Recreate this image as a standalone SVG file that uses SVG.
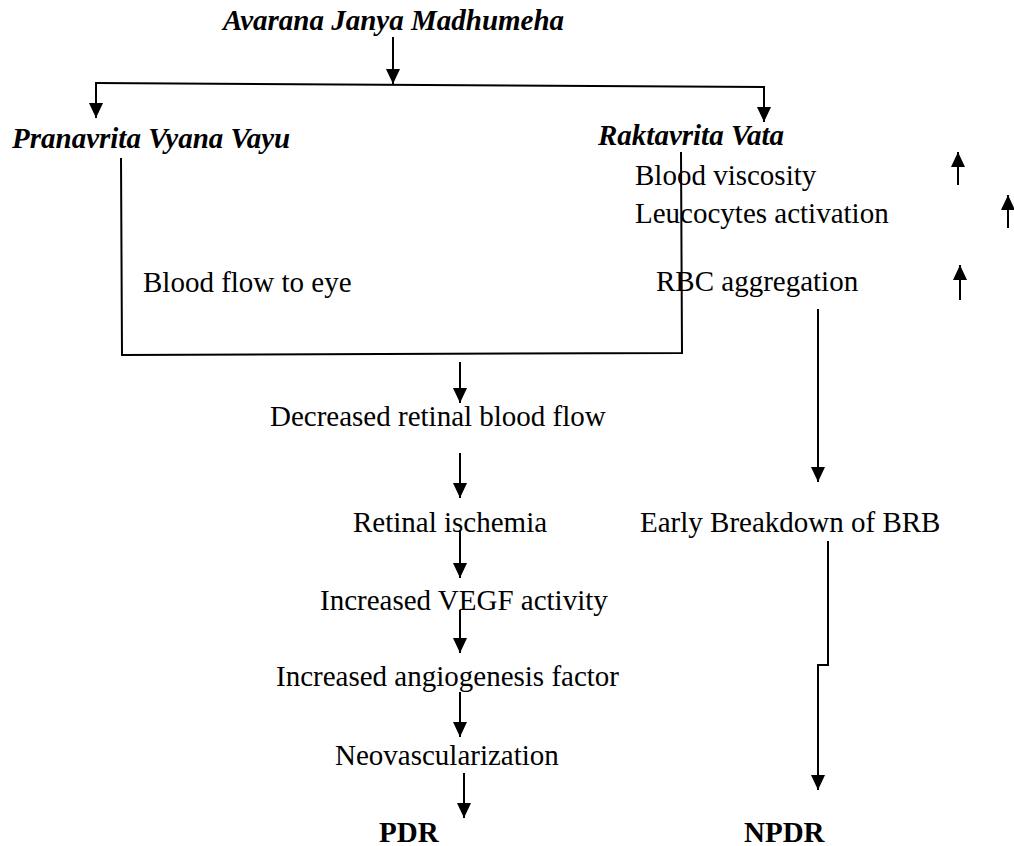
<svg xmlns="http://www.w3.org/2000/svg" width="1014" height="846" viewBox="0 0 1014 846">
<defs>
<marker id="ah" markerWidth="15" markerHeight="14" refX="15" refY="7" orient="auto" markerUnits="userSpaceOnUse">
<path d="M0,0 L15,7 L0,14 z" fill="#000"/>
</marker>
<style>
.t{font-family:"Liberation Serif","Times New Roman",serif;font-size:29px;fill:#000}
.bi{font-weight:bold;font-style:italic}
.b{font-weight:bold}
.ln{stroke:#000;stroke-width:2;fill:none}
.ar{stroke:#000;stroke-width:2;fill:none;marker-end:url(#ah)}
</style>
</defs>
<rect width="1014" height="846" fill="#fff"/>
<g id="connectors">
<line class="ar" x1="393" y1="37" x2="393" y2="84"/>
<line class="ln" x1="95" y1="83" x2="765" y2="87"/>
<line class="ar" x1="96" y1="83" x2="96" y2="118"/>
<line class="ar" x1="764" y1="87" x2="764" y2="122"/>
<polyline class="ln" points="121,158 122,355 682,353 681,152"/>
<line class="ar" x1="818" y1="309" x2="818" y2="482"/>
<line class="ar" x1="460" y1="362" x2="460" y2="403"/>
<line class="ar" x1="460" y1="453" x2="460" y2="498"/>
<line class="ar" x1="460" y1="530" x2="460" y2="578"/>
<line class="ar" x1="460" y1="610" x2="460" y2="653"/>
<line class="ar" x1="460" y1="692" x2="460" y2="737"/>
<line class="ar" x1="464" y1="773" x2="464" y2="818"/>
<polyline class="ar" points="828,541 828,665 818,665 818,790"/>
<line class="ar" x1="958" y1="185" x2="958" y2="152"/>
<line class="ar" x1="1008" y1="228" x2="1008" y2="195"/>
<line class="ar" x1="960" y1="300" x2="960" y2="265"/>
</g>
<g id="n-title"><text class="t bi" x="223" y="30">Avarana Janya Madhumeha</text></g>
<g id="n-pranavrita"><text class="t bi" x="12" y="148">Pranavrita Vyana Vayu</text></g>
<g id="n-raktavrita"><text class="t bi" x="598" y="145">Raktavrita Vata</text></g>
<g id="n-viscosity"><text class="t" x="635" y="185">Blood viscosity</text></g>
<g id="n-leucocytes"><text class="t" x="635" y="223">Leucocytes activation</text></g>
<g id="n-bloodflow"><text class="t" x="143" y="292">Blood flow to eye</text></g>
<g id="n-rbc"><text class="t" x="656" y="291">RBC aggregation</text></g>
<g id="n-decreased"><text class="t" x="270" y="426">Decreased retinal blood flow</text></g>
<g id="n-ischemia"><text class="t" x="353" y="532">Retinal ischemia</text></g>
<g id="n-brb"><text class="t" x="640" y="532">Early Breakdown of BRB</text></g>
<g id="n-vegf"><text class="t" x="320" y="610">Increased VEGF activity</text></g>
<g id="n-angio"><text class="t" x="276" y="686">Increased angiogenesis factor</text></g>
<g id="n-neo"><text class="t" x="335" y="765">Neovascularization</text></g>
<g id="n-pdr"><text class="t b" x="379" y="842">PDR</text></g>
<g id="n-npdr"><text class="t b" x="744" y="842">NPDR</text></g>
</svg>
